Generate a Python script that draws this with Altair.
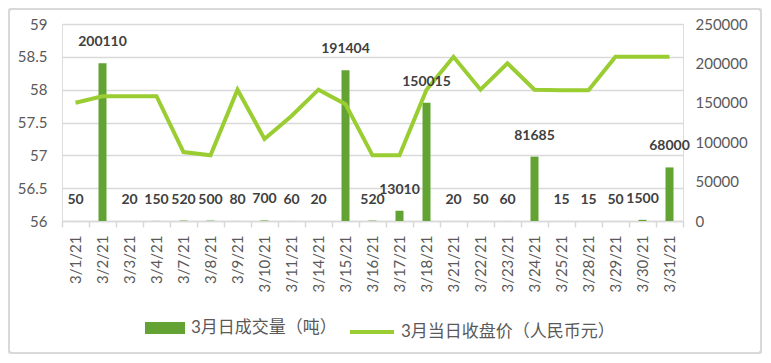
import altair as alt
import pandas as pd

dates = ["3/1/21", "3/2/21", "3/3/21", "3/4/21", "3/7/21", "3/8/21", "3/9/21",
         "3/10/21", "3/11/21", "3/14/21", "3/15/21", "3/16/21", "3/17/21",
         "3/18/21", "3/21/21", "3/22/21", "3/23/21", "3/24/21", "3/25/21",
         "3/28/21", "3/29/21", "3/30/21", "3/31/21"]
volume = [50, 200110, 20, 150, 520, 500, 80, 700, 60, 20, 191404, 520, 13010,
          150015, 20, 50, 60, 81685, 15, 15, 50, 1500, 68000]
price = [57.8, 57.9, 57.9, 57.9, 57.05, 57.0, 58.0, 57.25, 57.6, 58.0, 57.78,
         57.0, 57.0, 58.0, 58.5, 58.0, 58.4, 58.0, 57.99, 57.99, 58.5, 58.5, 58.5]

vol_name = "3月日成交量（吨）"
price_name = "3月当日收盘价（人民币元）"

df = pd.DataFrame({"date": dates, "volume": volume, "price": price,
                   "vs": vol_name, "ps": price_name})

FONT = "Lato, 'Noto Sans CJK SC', sans-serif"
GRID = "#d9d9d9"
TXT = "#595959"
BAR = "#62a333"
LINE = "#9acd32"

x_enc = alt.X("date:N", sort=None, title=None,
              scale=alt.Scale(paddingInner=0, paddingOuter=0),
              axis=alt.Axis(labelAngle=270, labelAlign="right", labelBaseline="middle",
                            labelPadding=8, labelFontSize=15, labelColor=TXT,
                            labelFont=FONT, tickBand="extent", tickSize=6,
                            tickColor=GRID, tickWidth=1.5, domainColor=GRID,
                            domainWidth=1.5, grid=False, labelOverlap=False))

vol_scale = alt.Scale(domain=[0, 250000], nice=False)

bars = alt.Chart(df).mark_bar(size=8).encode(
    x=x_enc,
    y=alt.Y("volume:Q", scale=vol_scale, title=None,
            axis=alt.Axis(orient="right", values=[0, 50000, 100000, 150000, 200000, 250000],
                          format="d", grid=False, ticks=False, domain=False,
                          labelPadding=12, labelFontSize=15, labelColor=TXT,
                          labelFont=FONT)),
    fill=alt.Fill("vs:N", scale=alt.Scale(domain=[vol_name], range=[BAR]),
                  legend=alt.Legend(title=None, orient="none", legendX=83, legendY=284,
                                    symbolType="M-1,-0.3H1V0.3H-1Z", symbolSize=1600,
                                    symbolStrokeWidth=0, labelFontSize=17,
                                    labelColor=TXT, labelFont=FONT, labelOffset=6,
                                    labelLimit=400)),
)

line = alt.Chart(df).mark_line(strokeWidth=4, strokeJoin="miter").encode(
    x=x_enc,
    y=alt.Y("price:Q", scale=alt.Scale(domain=[56, 59], nice=False, zero=False), title=None,
            axis=alt.Axis(orient="left", values=[56, 56.5, 57, 57.5, 58, 58.5, 59],
                          format="~g", grid=True, gridColor=GRID, gridWidth=1.5,
                          ticks=False, domain=False, labelPadding=15,
                          labelFontSize=15, labelColor=TXT, labelFont=FONT)),
    stroke=alt.Stroke("ps:N", scale=alt.Scale(domain=[price_name], range=[LINE]),
                      legend=alt.Legend(title=None, orient="none", legendX=286, legendY=284,
                                        symbolType="stroke", symbolSize=1936,
                                        symbolStrokeWidth=4, labelFontSize=17,
                                        labelColor=TXT, labelFont=FONT, labelOffset=5,
                                        labelLimit=400)),
)

labels = alt.Chart(df).mark_text(dy=-21, baseline="middle", align="center",
                                 fontWeight="bold", fontSize=14, font=FONT,
                                 color="#404040").encode(
    x=x_enc,
    y=alt.Y("volume:Q", scale=vol_scale, axis=None),
    text=alt.Text("volume:Q", format="d"),
)

border = alt.Chart(df).mark_rect(fill=None, stroke=GRID, strokeWidth=1.5,
                                 cornerRadius=3, clip=False).encode(
    x=alt.value(-53), x2=alt.value(699), y=alt.value(-15), y2=alt.value(329)
)

chart = alt.layer(border, bars, line, labels).resolve_scale(
    y="independent"
).properties(
    width=621, height=197,
    autosize=alt.AutoSizeParams(type="none"),
    padding={"left": 54, "top": 16, "right": 80, "bottom": 133},
).configure_view(stroke=None).configure(background="white")

chart.save("out.html", embed_options={"renderer": "svg", "actions": False})
